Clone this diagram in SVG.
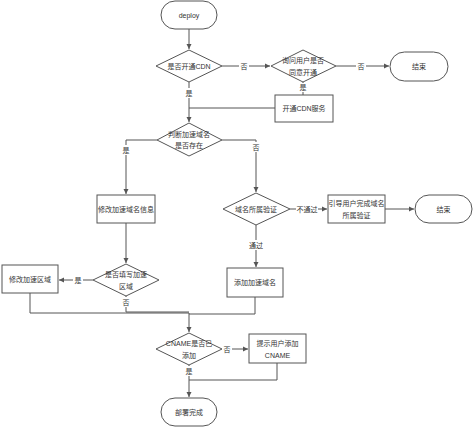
<svg xmlns="http://www.w3.org/2000/svg" width="474" height="427" viewBox="0 0 474 427">
<style>
.n{fill:#fff;stroke:#555;stroke-width:1}
.c{fill:none;stroke:#555;stroke-width:1}
.t{font-family:"Liberation Sans","Noto Sans CJK SC",sans-serif;font-size:7px;fill:#333;text-anchor:middle;dominant-baseline:central}
.lb{fill:#fff}
</style>
<defs>
<marker id="a" markerWidth="6" markerHeight="6" refX="5" refY="3" orient="auto" markerUnits="userSpaceOnUse">
<path d="M0,0.5 L5,3 L0,5.5 Z" fill="#555"/>
</marker>
</defs>
<rect width="474" height="427" fill="#fff"/>
<g id="connectors">
<path class="c" d="M189,29 V49" marker-end="url(#a)"/>
<path class="c" d="M222,66 H270" marker-end="url(#a)"/>
<path class="c" d="M336,66 H389" marker-end="url(#a)"/>
<path class="c" d="M303,82 V95"/>
<path class="c" d="M189,82 V122" marker-end="url(#a)"/>
<path class="c" d="M275,108 H189"/>
<path class="c" d="M157,140 H126 V194" marker-end="url(#a)"/>
<path class="c" d="M222,140 H256 V192" marker-end="url(#a)"/>
<path class="c" d="M290,209 H327" marker-end="url(#a)"/>
<path class="c" d="M385,209 H414" marker-end="url(#a)"/>
<path class="c" d="M256,225 V267" marker-end="url(#a)"/>
<path class="c" d="M126,223 V263" marker-end="url(#a)"/>
<path class="c" d="M93,280 H59" marker-end="url(#a)"/>
<path class="c" d="M126,296 V312 H189"/>
<path class="c" d="M30,293 V313 H189 V332" marker-end="url(#a)"/>
<path class="c" d="M255,297 V314 H189"/>
<path class="c" d="M222,349 H248" marker-end="url(#a)"/>
<path class="c" d="M189,365 V397" marker-end="url(#a)"/>
<path class="c" d="M277,363 V380 H189"/>
<g id="labels">
<rect class="lb" x="239" y="61" width="10" height="10"/><text class="t" x="244" y="66">否</text>
<rect class="lb" x="356" y="61" width="10" height="10"/><text class="t" x="361" y="66">否</text>
<rect class="lb" x="298" y="83" width="10" height="9"/><text class="t" x="303" y="87">是</text>
<rect class="lb" x="184" y="88" width="10" height="10"/><text class="t" x="189" y="93">是</text>
<rect class="lb" x="121" y="145" width="10" height="10"/><text class="t" x="126" y="150">是</text>
<rect class="lb" x="251" y="142" width="10" height="10"/><text class="t" x="256" y="147">否</text>
<rect class="lb" x="296" y="204" width="22" height="10"/><text class="t" x="307" y="209">不通过</text>
<rect class="lb" x="248" y="240" width="16" height="10"/><text class="t" x="256" y="245">通过</text>
<rect class="lb" x="73" y="275" width="10" height="10"/><text class="t" x="78" y="280">是</text>
<rect class="lb" x="121" y="297" width="10" height="10"/><text class="t" x="126" y="302">否</text>
<rect class="lb" x="222" y="344" width="10" height="10"/><text class="t" x="227" y="349">否</text>
<rect class="lb" x="184" y="366" width="10" height="10"/><text class="t" x="189" y="371">是</text>
</g>
</g>
<g id="deploy"><rect class="n" x="161" y="1" width="56" height="28" rx="14"/><text class="t" x="189" y="15">deploy</text></g>
<g id="d-cdn"><polygon class="n" points="189,50 222,66 189,82 156,66"/><text class="t" x="189" y="66">是否开通CDN</text></g>
<g id="d-ask"><polygon class="n" points="303,50 336,66 303,82 271,66"/><text class="t" x="303" y="60">询问用户是否</text><text class="t" x="303" y="72">同意开通</text></g>
<g id="end1"><rect class="n" x="390" y="52" width="58" height="29" rx="14.5"/><text class="t" x="419" y="66">结束</text></g>
<g id="open-cdn"><rect class="n" x="275" y="95" width="58" height="27"/><text class="t" x="304" y="108">开通CDN服务</text></g>
<g id="d-exist"><polygon class="n" points="189,123 222,140 189,156 157,140"/><text class="t" x="189" y="134">判断加速域名</text><text class="t" x="189" y="145">是否存在</text></g>
<g id="modify-domain"><rect class="n" x="97" y="195" width="58" height="28"/><text class="t" x="126" y="209">修改加速域名信息</text></g>
<g id="d-verify"><polygon class="n" points="256,193 290,209 256,225 223,209"/><text class="t" x="256" y="209">域名所属验证</text></g>
<g id="guide"><rect class="n" x="328" y="195" width="57" height="28"/><text class="t" x="356.5" y="203">引导用户完成域名</text><text class="t" x="356.5" y="215">所属验证</text></g>
<g id="end2"><rect class="n" x="415" y="195" width="57" height="28" rx="14"/><text class="t" x="443.5" y="209">结束</text></g>
<g id="d-region"><polygon class="n" points="126,264 159,280 126,296 93,280"/><text class="t" x="126" y="274">是否填写加速</text><text class="t" x="126" y="286">区域</text></g>
<g id="modify-region"><rect class="n" x="2" y="265" width="56" height="28"/><text class="t" x="30" y="279">修改加速区域</text></g>
<g id="add-domain"><rect class="n" x="227" y="268" width="56" height="29"/><text class="t" x="255" y="282">添加加速域名</text></g>
<g id="d-cname"><polygon class="n" points="189,333 222,349 189,365 156,349"/><text class="t" x="189" y="343">CNAME是否已</text><text class="t" x="189" y="355">添加</text></g>
<g id="tip-cname"><rect class="n" x="249" y="334" width="57" height="29"/><text class="t" x="277.5" y="343">提示用户添加</text><text class="t" x="277.5" y="355">CNAME</text></g>
<g id="done"><rect class="n" x="161" y="398" width="56" height="28" rx="14"/><text class="t" x="189" y="412">部署完成</text></g>
</svg>
